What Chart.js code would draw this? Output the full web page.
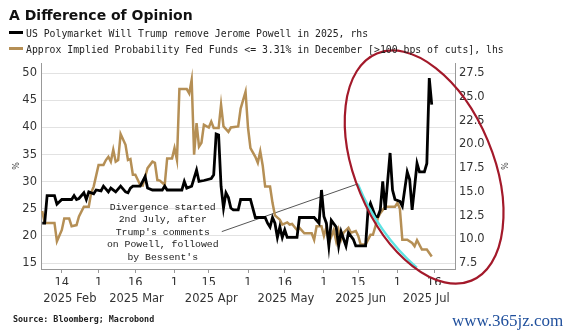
<!DOCTYPE html>
<html>
<head>
<meta charset="utf-8">
<script src="https://cdn.jsdelivr.net/npm/chart.js@4.4.1/dist/chart.umd.min.js"></script>
<style>
  html, body { margin: 0; padding: 0; background: #fff; }
  #wrap { position: relative; width: 570px; height: 336px; overflow: hidden; }
  #chart { position: absolute; left: 0; top: 0; }
  .title { position: absolute; left: 9px; top: 7px; font: bold 14px "DejaVu Sans"; line-height: 17px; color: #111; }
  .leg { position: absolute; left: 9px; font: 9.8px "DejaVu Sans Mono"; line-height: 12px; color: #222; white-space: pre; }
  .leg i { display: inline-block; width: 14px; height: 3px; vertical-align: 3px; margin-right: 3px; }
  .src { position: absolute; left: 13px; top: 313px; font: bold 8.4px "DejaVu Sans Mono"; line-height: 12px; color: #222; }
  .wm { position: absolute; left: 452px; top: 311px; font: 17px "Liberation Serif"; line-height: 20px; color: #1f4f9c; }
</style>
</head>
<body>
<div id="wrap">
  <canvas id="chart" width="570" height="336"></canvas>
  <div class="title">A Difference of Opinion</div>
  <div class="leg" style="top:28px"><i style="background:#000"></i>US Polymarket Will Trump remove Jerome Powell in 2025, rhs</div>
  <div class="leg" style="top:44px"><i style="background:#b58f55"></i>Approx Implied Probability Fed Funds &lt;= 3.31% in December [&gt;100 bps of cuts], lhs</div>
  <div class="src">Source: Bloomberg; Macrobond</div>
  <div class="wm">www.365jz.com</div>
</div>
<script>
// Polymarket odds (rhs, %)
const polyDates = ['2025-02-06','2025-02-07','2025-02-08','2025-02-11','2025-02-12','2025-02-14','2025-02-18','2025-02-19','2025-02-20','2025-02-21',
  '2025-02-23','2025-02-24','2025-02-25','2025-02-27','2025-02-28','2025-03-02','2025-03-03','2025-03-05','2025-03-06','2025-03-08',
  '2025-03-10','2025-03-12','2025-03-13','2025-03-14','2025-03-15','2025-03-18','2025-03-20','2025-03-21','2025-03-23','2025-03-27',
  '2025-03-28','2025-03-29','2025-04-04','2025-04-05','2025-04-06','2025-04-08','2025-04-10','2025-04-11','2025-04-13','2025-04-16',
  '2025-04-17','2025-04-18','2025-04-19','2025-04-20','2025-04-21','2025-04-22','2025-04-23','2025-04-24','2025-04-25','2025-04-27',
  '2025-04-28','2025-05-02','2025-05-04','2025-05-08','2025-05-09','2025-05-10','2025-05-11','2025-05-12','2025-05-13','2025-05-14',
  '2025-05-15','2025-05-16','2025-05-17','2025-05-21','2025-05-22','2025-05-28','2025-05-30','2025-05-31','2025-06-01','2025-06-02',
  '2025-06-03','2025-06-04','2025-06-06','2025-06-07','2025-06-08','2025-06-10','2025-06-11','2025-06-13','2025-06-14','2025-06-18',
  '2025-06-19','2025-06-20','2025-06-22','2025-06-23','2025-06-24','2025-06-25','2025-06-26','2025-06-28','2025-06-29','2025-06-30',
  '2025-07-02','2025-07-03','2025-07-05','2025-07-06','2025-07-07','2025-07-08','2025-07-09','2025-07-10','2025-07-12','2025-07-13',
  '2025-07-14','2025-07-15'];
const polyValues = [11.7, 11.7, 14.6, 14.6, 13.7, 14.2, 14.2, 14.6, 14.2, 14.3,
  14.9, 14.2, 15.0, 14.8, 15.2, 15.1, 15.6, 15.0, 15.4, 15.0,
  15.6, 15.0, 14.9, 15.4, 15.6, 15.6, 16.6, 15.4, 15.2, 15.2,
  15.6, 15.2, 15.2, 16.1, 15.4, 15.6, 17.3, 16.1, 16.2, 16.4,
  16.8, 21.1, 21.0, 15.6, 13.3, 14.9, 14.4, 13.3, 13.1, 13.1,
  14.2, 14.2, 12.3, 12.3, 11.7, 11.3, 12.3, 11.7, 10.2, 11.3,
  10.2, 11.0, 10.2, 10.2, 12.3, 12.3, 11.7, 15.2, 12.4, 11.7,
  9.3, 12.0, 11.3, 9.3, 10.8, 9.3, 10.7, 10.0, 9.3, 9.3,
  13.1, 13.8, 12.4, 12.4, 13.1, 16.1, 13.1, 19.1, 15.2, 14.2,
  14.0, 13.5, 17.1, 16.3, 13.1, 15.5, 18.0, 17.1, 17.1, 18.0,
  27.0, 24.2];

// Fed funds implied probability (lhs, %)
const fedDates = ['2025-02-06','2025-02-07','2025-02-11','2025-02-12','2025-02-14','2025-02-15','2025-02-17','2025-02-18','2025-02-20','2025-02-21',
  '2025-02-23','2025-02-25','2025-02-26','2025-02-27','2025-03-01','2025-03-03','2025-03-04','2025-03-05','2025-03-06','2025-03-07',
  '2025-03-08','2025-03-09','2025-03-10','2025-03-12','2025-03-13','2025-03-14','2025-03-15','2025-03-16','2025-03-18','2025-03-19',
  '2025-03-21','2025-03-23','2025-03-24','2025-03-25','2025-03-26','2025-03-28','2025-03-29','2025-03-31','2025-04-01','2025-04-02',
  '2025-04-03','2025-04-06','2025-04-07','2025-04-08','2025-04-09','2025-04-10','2025-04-11','2025-04-12','2025-04-13','2025-04-15',
  '2025-04-16','2025-04-17','2025-04-19','2025-04-20','2025-04-21','2025-04-23','2025-04-24','2025-04-27','2025-04-28','2025-04-30',
  '2025-05-01','2025-05-02','2025-05-04','2025-05-05','2025-05-06','2025-05-07','2025-05-08','2025-05-10','2025-05-11','2025-05-12',
  '2025-05-14','2025-05-15','2025-05-17','2025-05-18','2025-05-19','2025-05-21','2025-05-22','2025-05-24','2025-05-27','2025-05-28',
  '2025-05-29','2025-05-31','2025-06-01','2025-06-02','2025-06-03','2025-06-05','2025-06-06','2025-06-07','2025-06-08','2025-06-09',
  '2025-06-11','2025-06-12','2025-06-14','2025-06-15','2025-06-16','2025-06-18','2025-06-20','2025-06-21','2025-06-23','2025-06-24',
  '2025-06-26','2025-06-30','2025-07-01','2025-07-02','2025-07-03','2025-07-05','2025-07-07','2025-07-08','2025-07-09','2025-07-11',
  '2025-07-13','2025-07-15'];
const fedValues = [24.6, 22.4, 22.4, 19.0, 21.1, 23.2, 23.2, 21.8, 22.0, 23.6,
  25.4, 25.4, 28.0, 29.1, 33.1, 33.1, 34.0, 34.6, 33.7, 35.9,
  33.7, 34.0, 38.8, 36.8, 34.0, 34.2, 31.3, 31.3, 29.4, 29.3,
  32.5, 33.7, 33.5, 30.3, 30.2, 29.4, 34.3, 34.3, 36.2, 34.0,
  47.1, 47.1, 46.3, 48.8, 35.0, 40.8, 36.5, 37.2, 40.5, 40.0,
  41.1, 39.9, 39.9, 44.2, 40.2, 39.2, 40.0, 40.2, 43.5, 46.6,
  40.0, 36.2, 34.6, 33.5, 35.6, 33.0, 29.1, 29.1, 26.1, 23.8,
  23.0, 22.1, 22.5, 22.1, 22.2, 21.1, 21.5, 20.5, 20.5, 19.3,
  21.8, 21.8, 20.0, 21.6, 18.7, 21.1, 19.0, 21.1, 19.3, 20.6,
  21.5, 20.6, 20.9, 20.0, 18.4, 18.4, 20.2, 20.2, 23.3, 24.2,
  25.4, 25.4, 26.1, 25.0, 19.3, 19.3, 18.7, 18.1, 19.2, 17.5,
  17.5, 16.2];

const dayTickDates = ['2025-02-14','2025-03-01','2025-03-16','2025-04-01','2025-04-15','2025-05-01','2025-05-16','2025-06-01','2025-06-15','2025-07-01','2025-07-16'];
const monthStarts = ['2025-02-01','2025-03-01','2025-04-01','2025-05-01','2025-06-01','2025-07-01','2025-08-01'];
const monthLabels = ['2025 Feb','2025 Mar','2025 Apr','2025 May','2025 Jun','2025 Jul'];
const lhsTicks = [15, 20, 25, 30, 35, 40, 45, 50];
const rhsTicks = [7.5, 10, 12.5, 15, 17.5, 20, 22.5, 25, 27.5];
const noteLines = ["Divergence started", "2nd July, after", "Trump's comments", "on Powell, followed", "by Bessent's"];

// day of year, 1 Jan = 0
function dayOf(s) {
  const p = s.split('-').map(Number);
  return (Date.UTC(p[0], p[1] - 1, p[2]) - Date.UTC(p[0], 0, 1)) / 864e5;
}

const xMin = 35.5, xMax = 204.5;
const lhsMin = 13.9, lhsMax = 51.9;
// rhs is tied to lhs: 15 <-> 7.5, 50 <-> 27.5
const toRhs = v => 7.5 + (v - 15) * 20 / 35;

const monthCenters = monthLabels.map((m, i) => {
  const a = Math.max(dayOf(monthStarts[i]), xMin);
  const b = Math.min(dayOf(monthStarts[i + 1]), xMax);
  return (a + b) / 2;
});

const tickFont = { family: 'DejaVu Sans', size: 11.5 };

// note, pointer, and the hand drawn marks over the chart
const markup = {
  id: 'markup',
  beforeDatasetsDraw(chart) {
    const { ctx, scales: { x, y } } = chart;
    ctx.save();
    ctx.strokeStyle = '#555';
    ctx.lineWidth = 1;
    ctx.beginPath();
    ctx.moveTo(x.getPixelForValue(109.3), y.getPixelForValue(20.8));
    ctx.lineTo(x.getPixelForValue(164.8), y.getPixelForValue(29.6));
    ctx.stroke();
    ctx.font = '9.8px "Liberation Mono"';
    ctx.fillStyle = '#222';
    ctx.textAlign = 'center';
    ctx.textBaseline = 'middle';
    const cx = x.getPixelForValue(85.2), top = y.getPixelForValue(25.25);
    noteLines.forEach((t, i) => ctx.fillText(t, cx, top + i * 12.4));
    ctx.restore();
  },
  afterDraw(chart) {
    const { ctx, scales: { x, y } } = chart;
    ctx.save();
    ctx.strokeStyle = '#5fe3e3';
    ctx.lineWidth = 2.5;
    ctx.beginPath();
    ctx.moveTo(x.getPixelForValue(164.8), y.getPixelForValue(29.6));
    ctx.quadraticCurveTo(x.getPixelForValue(173.2), y.getPixelForValue(20.4),
                         x.getPixelForValue(188.9), y.getPixelForValue(14.14));
    ctx.stroke();
    ctx.strokeStyle = '#a3192a';
    ctx.lineWidth = 2.2;
    ctx.beginPath();
    ctx.ellipse(x.getPixelForValue(191.9), y.getPixelForValue(32.7), 69, 123, -22.6 * Math.PI / 180, 0, 2 * Math.PI);
    ctx.stroke();
    ctx.restore();
  }
};

new Chart(document.getElementById('chart'), {
  type: 'line',
  data: {
    datasets: [{
      label: 'US Polymarket Will Trump remove Jerome Powell in 2025, rhs',
      data: polyDates.map((d, i) => ({ x: dayOf(d), y: polyValues[i] })),
      yAxisID: 'y1',
      borderColor: '#000',
      borderWidth: 2.8,
      pointRadius: 0,
      tension: 0
    }, {
      label: 'Approx Implied Probability Fed Funds <= 3.31% in December [>100 bps of cuts], lhs',
      data: fedDates.map((d, i) => ({ x: dayOf(d), y: fedValues[i] })),
      yAxisID: 'y',
      borderColor: '#b58f55',
      borderWidth: 2.5,
      pointRadius: 0,
      tension: 0
    }]
  },
  options: {
    responsive: false,
    animation: false,
    layout: { padding: { top: 63, left: 0, right: 0, bottom: 31 } },
    plugins: { legend: { display: false }, tooltip: { enabled: false } },
    scales: {
      x: {
        type: 'linear', position: 'bottom', weight: 0,
        min: xMin, max: xMax,
        afterBuildTicks: s => { s.ticks = dayTickDates.map(d => ({ value: dayOf(d) })); },
        afterFit: s => { s.height = 16; },
        grid: { drawOnChartArea: false, drawTicks: true, tickLength: 4, color: '#999' },
        border: { display: true, color: '#999' },
        ticks: {
          autoSkip: false, maxRotation: 0, padding: 3,
          font: tickFont, color: '#333',
          callback: (v, i) => String(Number(dayTickDates[i].slice(8)))
        }
      },
      x2: {
        type: 'linear', position: 'bottom', weight: 1,
        min: xMin, max: xMax,
        afterBuildTicks: s => { s.ticks = monthCenters.map(v => ({ value: v })); },
        afterFit: s => { s.height = 20; },
        grid: { display: false, drawTicks: false },
        border: { display: false },
        ticks: {
          autoSkip: false, maxRotation: 0, padding: 7,
          font: tickFont, color: '#333',
          callback: (v, i) => monthLabels[i]
        }
      },
      y: {
        position: 'left',
        min: lhsMin, max: lhsMax,
        afterBuildTicks: s => { s.ticks = lhsTicks.map(v => ({ value: v })); },
        afterFit: s => { s.width = 41; },
        grid: { color: '#e2e2e2', drawTicks: false, tickLength: 0 },
        border: { display: true, color: '#999' },
        ticks: { padding: 4, font: tickFont, color: '#333' },
        title: { display: true, text: '%', font: { family: 'DejaVu Sans', size: 8 }, color: '#444', padding: { top: 12, bottom: 0 } }
      },
      y1: {
        position: 'right',
        min: toRhs(lhsMin), max: toRhs(lhsMax),
        afterBuildTicks: s => { s.ticks = rhsTicks.map(v => ({ value: v })); },
        afterFit: s => { s.width = 115; },
        grid: { drawOnChartArea: false, drawTicks: false, tickLength: 0 },
        border: { display: true, color: '#999' },
        ticks: { padding: 4, font: tickFont, color: '#333', callback: v => v.toFixed(1) },
        title: { display: true, text: '%', font: { family: 'DejaVu Sans', size: 8 }, color: '#444', padding: { top: 62, bottom: 0 } }
      }
    }
  },
  plugins: [markup]
});
</script>
</body>
</html>
